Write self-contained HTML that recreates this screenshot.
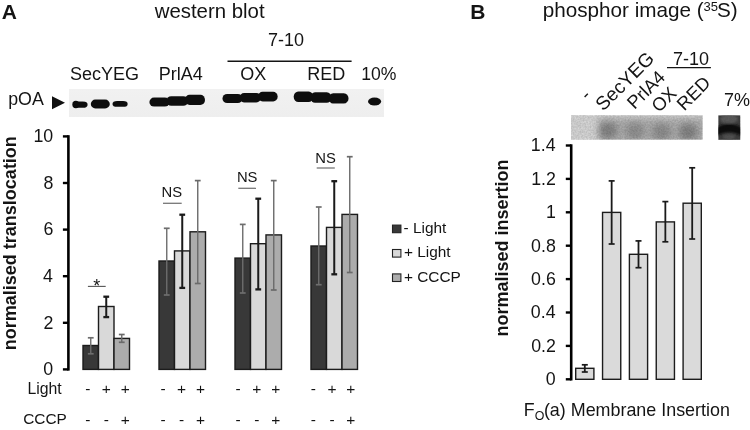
<!DOCTYPE html>
<html><head><meta charset="utf-8"><style>
html,body{margin:0;padding:0;background:#fff;}
svg{display:block;font-family:"Liberation Sans",sans-serif;will-change:transform;}
</style></head><body>
<svg width="750" height="430" viewBox="0 0 750 430">
<defs>
<linearGradient id="blotA" x1="0" y1="0" x2="0" y2="1">
<stop offset="0" stop-color="#f1f1f1"/><stop offset="1" stop-color="#eeeeee"/>
</linearGradient>
<filter id="bl" x="-50%" y="-50%" width="200%" height="200%"><feGaussianBlur stdDeviation="0.65"/></filter>
<linearGradient id="b7" x1="0" y1="0" x2="0" y2="1"><stop offset="0" stop-color="#5a5a5a"/><stop offset="0.5" stop-color="#3a3a3a"/><stop offset="1" stop-color="#555"/></linearGradient>
<filter id="noise" x="0" y="0" width="100%" height="100%"><feTurbulence type="fractalNoise" baseFrequency="0.6" numOctaves="2" seed="3"/><feColorMatrix type="matrix" values="0 0 0 0 0  0 0 0 0 0  0 0 0 0 0  0 0 0 -1.2 1.1"/></filter>
<clipPath id="c7"><rect x="718.4" y="115.4" width="21.8" height="24.4"/></clipPath>
<clipPath id="cp"><rect x="571" y="115.3" width="131.4" height="24.3"/></clipPath>
<filter id="bl2" x="-50%" y="-50%" width="200%" height="200%"><feGaussianBlur stdDeviation="3.2"/></filter>
<filter id="bl3" x="-50%" y="-50%" width="200%" height="200%"><feGaussianBlur stdDeviation="1.3"/></filter>
</defs>
<rect width="750" height="430" fill="#fff"/>
<text x="1.80" y="19.20" font-size="21" font-weight="bold" fill="#141414" >A</text>
<text x="154.70" y="18.30" font-size="20.4" fill="#141414" >western blot</text>
<text x="268.00" y="46.10" font-size="18" fill="#141414" >7-10</text>
<line x1="227.5" y1="61.2" x2="351.6" y2="61.2" stroke="#141414" stroke-width="1.4"/>
<text x="69.90" y="80.30" font-size="18" fill="#141414" >SecYEG</text>
<text x="158.80" y="79.50" font-size="18" fill="#141414" >PrlA4</text>
<text x="240.20" y="79.70" font-size="18" fill="#141414" >OX</text>
<text x="307.20" y="79.70" font-size="18" fill="#141414" >RED</text>
<text x="361.30" y="80.20" font-size="17.6" fill="#141414" >10%</text>
<text x="8.20" y="104.50" font-size="17.8" fill="#141414" >pOA</text>
<polygon points="52,96.3 65,102.8 52,109.3" fill="#111"/>
<rect x="69" y="89" width="315" height="28" fill="url(#blotA)"/>
<g filter="url(#bl)" fill="#111">
<rect x="73" y="101.60" width="14.60" height="6.20" rx="4.60" ry="3.10"/>
<rect x="90.8" y="99.60" width="19.00" height="8.80" rx="4.60" ry="4.40"/>
<rect x="112.5" y="101.00" width="15.20" height="5.80" rx="4.60" ry="2.90"/>
<rect x="149.4" y="97.60" width="20.10" height="9.00" rx="4.60" ry="4.50"/>
<rect x="166.5" y="96.20" width="21.50" height="9.60" rx="4.60" ry="4.80"/>
<rect x="185" y="94.80" width="20.00" height="10.20" rx="4.60" ry="5.10"/>
<rect x="222.5" y="93.90" width="20.00" height="9.20" rx="4.60" ry="4.60"/>
<rect x="239.5" y="93.00" width="21.50" height="9.40" rx="4.60" ry="4.70"/>
<rect x="258" y="91.80" width="19.70" height="9.70" rx="4.60" ry="4.85"/>
<rect x="293.7" y="91.40" width="19.50" height="10.60" rx="4.60" ry="5.30"/>
<rect x="310.4" y="92.20" width="21.00" height="10.60" rx="4.60" ry="5.30"/>
<rect x="328.6" y="93.20" width="19.90" height="10.40" rx="4.60" ry="5.20"/>
<ellipse cx="75.8" cy="104.5" rx="3.5" ry="3.7"/>
<ellipse cx="374.6" cy="101.5" rx="6.6" ry="4"/>
</g>
<line x1="68.4" y1="135.2" x2="68.4" y2="370.59999999999997" stroke="#000" stroke-width="2.6"/>
<line x1="62.9" y1="369.4" x2="68.4" y2="369.4" stroke="#000" stroke-width="2.4"/>
<text x="43.30" y="375.20" font-size="17.8" fill="#141414" >0</text>
<line x1="62.9" y1="322.79999999999995" x2="68.4" y2="322.79999999999995" stroke="#000" stroke-width="2.4"/>
<text x="43.50" y="328.60" font-size="17.8" fill="#141414" >2</text>
<line x1="62.9" y1="276.2" x2="68.4" y2="276.2" stroke="#000" stroke-width="2.4"/>
<text x="43.10" y="282.00" font-size="17.8" fill="#141414" >4</text>
<line x1="62.9" y1="229.59999999999997" x2="68.4" y2="229.59999999999997" stroke="#000" stroke-width="2.4"/>
<text x="43.40" y="235.40" font-size="17.8" fill="#141414" >6</text>
<line x1="62.9" y1="182.99999999999997" x2="68.4" y2="182.99999999999997" stroke="#000" stroke-width="2.4"/>
<text x="43.40" y="188.80" font-size="17.8" fill="#141414" >8</text>
<line x1="62.9" y1="136.39999999999998" x2="68.4" y2="136.39999999999998" stroke="#000" stroke-width="2.4"/>
<text x="33.40" y="142.20" font-size="17.8" fill="#141414" >10</text>
<text transform="translate(16.2,349.0) rotate(-90)" font-size="18" font-weight="bold" fill="#141414" x="-1.20" y="0">normalised translocation</text>
<rect x="83.0" y="345.5" width="15.5" height="23.899999999999977" fill="#383838" stroke="#1c1c1c" stroke-width="1.4"/>
<rect x="98.5" y="306.5" width="15.5" height="62.89999999999998" fill="#d9d9d9" stroke="#1c1c1c" stroke-width="1.4"/>
<rect x="114.0" y="338.4" width="15.5" height="31.0" fill="#acacac" stroke="#1c1c1c" stroke-width="1.4"/>
<line x1="90.75" y1="337.8" x2="90.75" y2="353.8" stroke="#6e6e6e" stroke-width="1.4"/>
<line x1="87.85" y1="337.8" x2="93.65" y2="337.8" stroke="#6e6e6e" stroke-width="1.7"/>
<line x1="87.85" y1="353.8" x2="93.65" y2="353.8" stroke="#6e6e6e" stroke-width="1.7"/>
<line x1="106.25" y1="296.7" x2="106.25" y2="317.1" stroke="#1a1a1a" stroke-width="2.0"/>
<line x1="103.35" y1="296.7" x2="109.15" y2="296.7" stroke="#1a1a1a" stroke-width="2.3"/>
<line x1="103.35" y1="317.1" x2="109.15" y2="317.1" stroke="#1a1a1a" stroke-width="2.3"/>
<line x1="121.75" y1="334.5" x2="121.75" y2="342.3" stroke="#6a6a6a" stroke-width="1.4"/>
<line x1="118.85" y1="334.5" x2="124.65" y2="334.5" stroke="#6a6a6a" stroke-width="1.7"/>
<line x1="118.85" y1="342.3" x2="124.65" y2="342.3" stroke="#6a6a6a" stroke-width="1.7"/>
<rect x="159.0" y="261" width="15.5" height="108.39999999999998" fill="#383838" stroke="#1c1c1c" stroke-width="1.4"/>
<rect x="174.5" y="250.9" width="15.5" height="118.49999999999997" fill="#d9d9d9" stroke="#1c1c1c" stroke-width="1.4"/>
<rect x="190.0" y="231.8" width="15.5" height="137.59999999999997" fill="#acacac" stroke="#1c1c1c" stroke-width="1.4"/>
<line x1="166.75" y1="228.3" x2="166.75" y2="295" stroke="#6e6e6e" stroke-width="1.4"/>
<line x1="163.85" y1="228.3" x2="169.65" y2="228.3" stroke="#6e6e6e" stroke-width="1.7"/>
<line x1="163.85" y1="295" x2="169.65" y2="295" stroke="#6e6e6e" stroke-width="1.7"/>
<line x1="182.25" y1="214.7" x2="182.25" y2="287.9" stroke="#1a1a1a" stroke-width="2.0"/>
<line x1="179.35" y1="214.7" x2="185.15" y2="214.7" stroke="#1a1a1a" stroke-width="2.3"/>
<line x1="179.35" y1="287.9" x2="185.15" y2="287.9" stroke="#1a1a1a" stroke-width="2.3"/>
<line x1="197.75" y1="180.6" x2="197.75" y2="283.5" stroke="#6a6a6a" stroke-width="1.4"/>
<line x1="194.85" y1="180.6" x2="200.65" y2="180.6" stroke="#6a6a6a" stroke-width="1.7"/>
<line x1="194.85" y1="283.5" x2="200.65" y2="283.5" stroke="#6a6a6a" stroke-width="1.7"/>
<rect x="235.0" y="258.1" width="15.5" height="111.29999999999995" fill="#383838" stroke="#1c1c1c" stroke-width="1.4"/>
<rect x="250.5" y="243.7" width="15.5" height="125.69999999999999" fill="#d9d9d9" stroke="#1c1c1c" stroke-width="1.4"/>
<rect x="266.0" y="234.9" width="15.5" height="134.49999999999997" fill="#acacac" stroke="#1c1c1c" stroke-width="1.4"/>
<line x1="242.75" y1="224.4" x2="242.75" y2="293" stroke="#6e6e6e" stroke-width="1.4"/>
<line x1="239.85" y1="224.4" x2="245.65" y2="224.4" stroke="#6e6e6e" stroke-width="1.7"/>
<line x1="239.85" y1="293" x2="245.65" y2="293" stroke="#6e6e6e" stroke-width="1.7"/>
<line x1="258.25" y1="198.7" x2="258.25" y2="289.4" stroke="#1a1a1a" stroke-width="2.0"/>
<line x1="255.35" y1="198.7" x2="261.15" y2="198.7" stroke="#1a1a1a" stroke-width="2.3"/>
<line x1="255.35" y1="289.4" x2="261.15" y2="289.4" stroke="#1a1a1a" stroke-width="2.3"/>
<line x1="273.75" y1="180.6" x2="273.75" y2="290" stroke="#6a6a6a" stroke-width="1.4"/>
<line x1="270.85" y1="180.6" x2="276.65" y2="180.6" stroke="#6a6a6a" stroke-width="1.7"/>
<line x1="270.85" y1="290" x2="276.65" y2="290" stroke="#6a6a6a" stroke-width="1.7"/>
<rect x="311.0" y="246" width="15.5" height="123.39999999999998" fill="#383838" stroke="#1c1c1c" stroke-width="1.4"/>
<rect x="326.5" y="227.4" width="15.5" height="141.99999999999997" fill="#d9d9d9" stroke="#1c1c1c" stroke-width="1.4"/>
<rect x="342.0" y="214.4" width="15.5" height="154.99999999999997" fill="#acacac" stroke="#1c1c1c" stroke-width="1.4"/>
<line x1="318.75" y1="207" x2="318.75" y2="284.7" stroke="#6e6e6e" stroke-width="1.4"/>
<line x1="315.85" y1="207" x2="321.65" y2="207" stroke="#6e6e6e" stroke-width="1.7"/>
<line x1="315.85" y1="284.7" x2="321.65" y2="284.7" stroke="#6e6e6e" stroke-width="1.7"/>
<line x1="334.25" y1="181.2" x2="334.25" y2="274.3" stroke="#1a1a1a" stroke-width="2.0"/>
<line x1="331.35" y1="181.2" x2="337.15" y2="181.2" stroke="#1a1a1a" stroke-width="2.3"/>
<line x1="331.35" y1="274.3" x2="337.15" y2="274.3" stroke="#1a1a1a" stroke-width="2.3"/>
<line x1="349.75" y1="156.7" x2="349.75" y2="272.5" stroke="#6a6a6a" stroke-width="1.4"/>
<line x1="346.85" y1="156.7" x2="352.65" y2="156.7" stroke="#6a6a6a" stroke-width="1.7"/>
<line x1="346.85" y1="272.5" x2="352.65" y2="272.5" stroke="#6a6a6a" stroke-width="1.7"/>
<line x1="87.9" y1="286.4" x2="105.7" y2="286.4" stroke="#555" stroke-width="1.1"/>
<text x="93.30" y="292.00" font-size="18" fill="#141414" >*</text>
<line x1="163" y1="203.3" x2="181.7" y2="203.3" stroke="#777" stroke-width="1.3"/>
<text x="161.60" y="197.00" font-size="14.8" fill="#141414" >NS</text>
<line x1="238.3" y1="188.3" x2="256" y2="188.3" stroke="#777" stroke-width="1.3"/>
<text x="236.90" y="182.40" font-size="14.8" fill="#141414" >NS</text>
<line x1="316.7" y1="168" x2="334.8" y2="168" stroke="#777" stroke-width="1.3"/>
<text x="315.30" y="162.70" font-size="14.8" fill="#141414" >NS</text>
<rect x="392.5" y="225.1" width="8.4" height="7.6" fill="#383838" stroke="#222" stroke-width="1.1"/>
<text x="403.50" y="233.00" font-size="15.4" fill="#141414" >- Light</text>
<rect x="392.5" y="249.5" width="8.4" height="7.6" fill="#d9d9d9" stroke="#222" stroke-width="1.1"/>
<text x="403.90" y="257.40" font-size="15.4" fill="#141414" >+ Light</text>
<rect x="392.5" y="273.9" width="8.4" height="7.6" fill="#acacac" stroke="#222" stroke-width="1.1"/>
<text x="403.90" y="281.80" font-size="15.4" fill="#141414" >+ CCCP</text>
<text x="27.50" y="393.90" font-size="15.8" fill="#141414" >Light</text>
<text x="23.20" y="423.80" font-size="15.4" fill="#141414" >CCCP</text>
<text x="85.20" y="394.2" font-size="15.5" fill="#141414">-</text>
<text x="101.85" y="394.2" font-size="15.5" fill="#141414">+</text>
<text x="120.75" y="394.2" font-size="15.5" fill="#141414">+</text>
<text x="85.20" y="424.5" font-size="15.5" fill="#141414">-</text>
<text x="103.80" y="424.5" font-size="15.5" fill="#141414">-</text>
<text x="120.75" y="424.5" font-size="15.5" fill="#141414">+</text>
<text x="160.40" y="394.2" font-size="15.5" fill="#141414">-</text>
<text x="177.05" y="394.2" font-size="15.5" fill="#141414">+</text>
<text x="195.95" y="394.2" font-size="15.5" fill="#141414">+</text>
<text x="160.40" y="424.5" font-size="15.5" fill="#141414">-</text>
<text x="179.00" y="424.5" font-size="15.5" fill="#141414">-</text>
<text x="195.95" y="424.5" font-size="15.5" fill="#141414">+</text>
<text x="235.60" y="394.2" font-size="15.5" fill="#141414">-</text>
<text x="252.25" y="394.2" font-size="15.5" fill="#141414">+</text>
<text x="271.15" y="394.2" font-size="15.5" fill="#141414">+</text>
<text x="235.60" y="424.5" font-size="15.5" fill="#141414">-</text>
<text x="254.20" y="424.5" font-size="15.5" fill="#141414">-</text>
<text x="271.15" y="424.5" font-size="15.5" fill="#141414">+</text>
<text x="310.80" y="394.2" font-size="15.5" fill="#141414">-</text>
<text x="327.45" y="394.2" font-size="15.5" fill="#141414">+</text>
<text x="346.35" y="394.2" font-size="15.5" fill="#141414">+</text>
<text x="310.80" y="424.5" font-size="15.5" fill="#141414">-</text>
<text x="329.40" y="424.5" font-size="15.5" fill="#141414">-</text>
<text x="346.35" y="424.5" font-size="15.5" fill="#141414">+</text>
<text x="470.20" y="19.00" font-size="21" font-weight="bold" fill="#141414" >B</text>
<text x="542.70" y="17.20" font-size="20.7" fill="#141414" >phosphor image (</text>
<text x="703.50" y="10.50" font-size="13" fill="#141414" >35</text>
<text x="717.00" y="17.20" font-size="20.7" fill="#141414" >S)</text>
<text x="673.00" y="64.70" font-size="18" fill="#141414" >7-10</text>
<line x1="667" y1="67.6" x2="710.9" y2="67.6" stroke="#141414" stroke-width="1.4"/>
<text transform="translate(587.5,101.0) rotate(-45)" font-size="18.4" fill="#141414">-</text>
<text transform="translate(603.3,111.8) rotate(-45)" font-size="19.2" fill="#141414">SecYEG</text>
<text transform="translate(634.5,110.1) rotate(-45)" font-size="18.4" fill="#141414">PrlA4</text>
<text transform="translate(659.0,113.3) rotate(-45)" font-size="18.4" fill="#141414">OX</text>
<text transform="translate(684.3,111.4) rotate(-45)" font-size="18.4" fill="#141414">RED</text>
<text x="723.90" y="106.00" font-size="18" fill="#141414" >7%</text>
<rect x="571" y="115.3" width="131.4" height="24.3" fill="#dddddd"/>
<g clip-path="url(#cp)"><g filter="url(#bl2)">
<rect x="598" y="118" width="108" height="25" fill="#b4b4b4"/>
<rect x="598.5" y="122.0" width="19" height="17" rx="8" fill="#8a8a8a"/>
<rect x="625.5" y="122.5" width="19" height="17" rx="8" fill="#969696"/>
<rect x="652.0" y="123.5" width="19" height="17" rx="8" fill="#939393"/>
<rect x="678.5" y="123.5" width="19" height="17" rx="8" fill="#888"/>
</g></g>
<rect x="571" y="115.3" width="131.4" height="24.3" fill="#fff" filter="url(#noise)" opacity="0.18"/>
<rect x="718.4" y="115.4" width="21.8" height="24.4" fill="#3e3e3e"/>
<g clip-path="url(#c7)"><g filter="url(#bl3)">
<ellipse cx="729" cy="119" rx="9" ry="4.5" fill="#5c5c5c"/>
<ellipse cx="729" cy="137" rx="6" ry="2.5" fill="#555"/>
<path d="M714,129 Q729.2,118.5 744,129 L744,137.5 Q729.2,127.5 714,137.5Z" fill="#111"/>
</g></g>
<rect x="718.4" y="115.4" width="21.8" height="24.4" fill="#fff" filter="url(#noise)" opacity="0.12"/>
<line x1="571.2" y1="144.3" x2="571.2" y2="380.5" stroke="#000" stroke-width="2.6"/>
<line x1="565.8" y1="379.3" x2="571.2" y2="379.3" stroke="#000" stroke-width="2.4"/>
<text x="545.80" y="385.10" font-size="17.8" fill="#141414" >0</text>
<line x1="565.8" y1="345.90000000000003" x2="571.2" y2="345.90000000000003" stroke="#000" stroke-width="2.4"/>
<text x="531.20" y="351.70" font-size="17.8" fill="#141414" >0.2</text>
<line x1="565.8" y1="312.5" x2="571.2" y2="312.5" stroke="#000" stroke-width="2.4"/>
<text x="530.80" y="318.30" font-size="17.8" fill="#141414" >0.4</text>
<line x1="565.8" y1="279.1" x2="571.2" y2="279.1" stroke="#000" stroke-width="2.4"/>
<text x="531.10" y="284.90" font-size="17.8" fill="#141414" >0.6</text>
<line x1="565.8" y1="245.70000000000002" x2="571.2" y2="245.70000000000002" stroke="#000" stroke-width="2.4"/>
<text x="531.10" y="251.50" font-size="17.8" fill="#141414" >0.8</text>
<line x1="565.8" y1="212.3" x2="571.2" y2="212.3" stroke="#000" stroke-width="2.4"/>
<text x="546.00" y="218.10" font-size="17.8" fill="#141414" >1</text>
<line x1="565.8" y1="178.90000000000003" x2="571.2" y2="178.90000000000003" stroke="#000" stroke-width="2.4"/>
<text x="531.20" y="184.70" font-size="17.8" fill="#141414" >1.2</text>
<line x1="565.8" y1="145.50000000000003" x2="571.2" y2="145.50000000000003" stroke="#000" stroke-width="2.4"/>
<text x="530.80" y="151.30" font-size="17.8" fill="#141414" >1.4</text>
<text transform="translate(507.6,335.4) rotate(-90)" font-size="18" font-weight="bold" fill="#141414" x="-1.20" y="0">normalised insertion</text>
<rect x="575.7" y="368.3" width="18.2" height="11.0" fill="#dadada" stroke="#1c1c1c" stroke-width="1.4"/>
<rect x="602.5500000000001" y="212.4" width="18.2" height="166.9" fill="#dadada" stroke="#1c1c1c" stroke-width="1.4"/>
<rect x="629.4000000000001" y="254.3" width="18.2" height="125.0" fill="#dadada" stroke="#1c1c1c" stroke-width="1.4"/>
<rect x="656.25" y="221.9" width="18.2" height="157.4" fill="#dadada" stroke="#1c1c1c" stroke-width="1.4"/>
<rect x="683.1" y="203.2" width="18.2" height="176.10000000000002" fill="#dadada" stroke="#1c1c1c" stroke-width="1.4"/>
<line x1="584.8000000000001" y1="364.8" x2="584.8000000000001" y2="372" stroke="#1a1a1a" stroke-width="1.8"/>
<line x1="581.8000000000001" y1="364.8" x2="587.8000000000001" y2="364.8" stroke="#1a1a1a" stroke-width="1.7"/>
<line x1="581.8000000000001" y1="372" x2="587.8000000000001" y2="372" stroke="#1a1a1a" stroke-width="1.7"/>
<line x1="611.6500000000001" y1="180.9" x2="611.6500000000001" y2="244" stroke="#1a1a1a" stroke-width="1.8"/>
<line x1="608.6500000000001" y1="180.9" x2="614.6500000000001" y2="180.9" stroke="#1a1a1a" stroke-width="1.7"/>
<line x1="608.6500000000001" y1="244" x2="614.6500000000001" y2="244" stroke="#1a1a1a" stroke-width="1.7"/>
<line x1="638.5000000000001" y1="240.9" x2="638.5000000000001" y2="267.7" stroke="#1a1a1a" stroke-width="1.8"/>
<line x1="635.5000000000001" y1="240.9" x2="641.5000000000001" y2="240.9" stroke="#1a1a1a" stroke-width="1.7"/>
<line x1="635.5000000000001" y1="267.7" x2="641.5000000000001" y2="267.7" stroke="#1a1a1a" stroke-width="1.7"/>
<line x1="665.35" y1="201.6" x2="665.35" y2="241.8" stroke="#1a1a1a" stroke-width="1.8"/>
<line x1="662.35" y1="201.6" x2="668.35" y2="201.6" stroke="#1a1a1a" stroke-width="1.7"/>
<line x1="662.35" y1="241.8" x2="668.35" y2="241.8" stroke="#1a1a1a" stroke-width="1.7"/>
<line x1="692.2" y1="167.8" x2="692.2" y2="239" stroke="#1a1a1a" stroke-width="1.8"/>
<line x1="689.2" y1="167.8" x2="695.2" y2="167.8" stroke="#1a1a1a" stroke-width="1.7"/>
<line x1="689.2" y1="239" x2="695.2" y2="239" stroke="#1a1a1a" stroke-width="1.7"/>
<text x="523.80" y="416.00" font-size="17.8" fill="#141414" >F</text>
<text x="534.70" y="420.30" font-size="12.4" fill="#141414" >O</text>
<text x="543.90" y="416.00" font-size="17.9" fill="#141414" >(a) Membrane Insertion</text>
</svg>
</body></html>
